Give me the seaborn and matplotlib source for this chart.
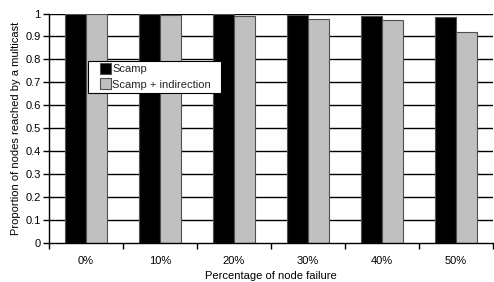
import matplotlib
matplotlib.use("Agg")
import matplotlib.patches as mpatches
import matplotlib.pyplot as plt
import numpy as np
import pandas as pd
import seaborn as sns
from matplotlib.legend_handler import HandlerPatch

failure_pct = ["0%", "10%", "20%", "30%", "40%", "50%"]
scamp = [1.0, 1.0, 0.997, 0.995, 0.99, 0.984]
scamp_indirection = [1.0, 0.993, 0.988, 0.978, 0.972, 0.921]
series_names = ["Scamp", "Scamp + indirection"]
y_ticks = [0, 0.1, 0.2, 0.3, 0.4, 0.5, 0.6, 0.7, 0.8, 0.9, 1]
y_tick_labels = ["0", "0.1", "0.2", "0.3", "0.4", "0.5", "0.6", "0.7", "0.8", "0.9", "1"]

FONT_SIZE = 8


def build_frame() -> pd.DataFrame:
    rows = []
    for name, values in zip(series_names, [scamp, scamp_indirection]):
        for pct, value in zip(failure_pct, values):
            rows.append({"failure": pct, "series": name, "value": value})
    return pd.DataFrame(rows)


def square_at_right(legend, orig_handle, xdescent, ydescent, width, height, fontsize):
    # small square sitting at the right end of the handle box
    size = 8.0
    return mpatches.Rectangle(
        (-xdescent + width - size, -ydescent + (height - size) / 2), size, size
    )


def main() -> None:
    sns.set_theme(style="white")
    plt.rcParams["font.family"] = ["Liberation Sans", "DejaVu Sans"]

    df = build_frame()
    fig = plt.figure(figsize=(4.94, 2.82), dpi=100)
    ax = fig.add_axes([0.099, 0.138, 0.899, 0.814])

    for y in y_ticks[1:]:
        ax.axhline(y, color="black", linewidth=1.0, zorder=0)

    sns.barplot(
        data=df,
        x="failure",
        y="value",
        hue="series",
        palette=["#000000", "#c0c0c0"],
        width=0.57,
        edgecolor="#505050",
        linewidth=0.8,
        ax=ax,
        zorder=2,
    )

    ax.set_ylim(0, 1)
    ax.set_xlim(-0.5, 5.5)
    ax.set_yticks(y_ticks)
    ax.set_yticklabels(y_tick_labels)
    ax.set_xticks(np.arange(len(failure_pct)))
    ax.set_xticklabels(failure_pct)
    ax.set_xticks(np.arange(len(failure_pct) + 1) - 0.5, minor=True)
    ax.tick_params(axis="x", which="major", length=0, labelsize=FONT_SIZE, pad=9, colors="black")
    ax.tick_params(axis="x", which="minor", length=4, width=1, color="black", direction="out", bottom=True)
    ax.tick_params(axis="y", which="major", length=4, width=1, color="black", direction="out",
                   left=True, labelsize=FONT_SIZE, pad=2, colors="black")

    for side in ["top", "right"]:
        ax.spines[side].set_visible(False)
    for side in ["left", "bottom"]:
        ax.spines[side].set_color("black")
        ax.spines[side].set_linewidth(1.0)

    ax.set_xlabel("Percentage of node failure", fontsize=FONT_SIZE, labelpad=4, color="black")
    ax.set_ylabel("Proportion of nodes reached by a multicast", fontsize=FONT_SIZE, labelpad=3, color="black")

    handles, labels = ax.get_legend_handles_labels()
    leg = ax.legend(
        handles,
        labels,
        loc="upper left",
        bbox_to_anchor=(0.088, 0.0, 0.30, 0.793),
        mode="expand",
        fontsize=FONT_SIZE,
        frameon=True,
        fancybox=False,
        framealpha=1,
        edgecolor="black",
        handlelength=1.75,
        handleheight=0.8,
        handletextpad=0.15,
        borderpad=0.3,
        labelspacing=0.45,
        borderaxespad=0,
        handler_map={mpatches.Rectangle: HandlerPatch(patch_func=square_at_right)},
    )
    leg.get_frame().set_linewidth(0.8)
    leg.set_zorder(5)

    fig.savefig("out.png", dpi=100)
    plt.close(fig)


if __name__ == "__main__":
    main()
